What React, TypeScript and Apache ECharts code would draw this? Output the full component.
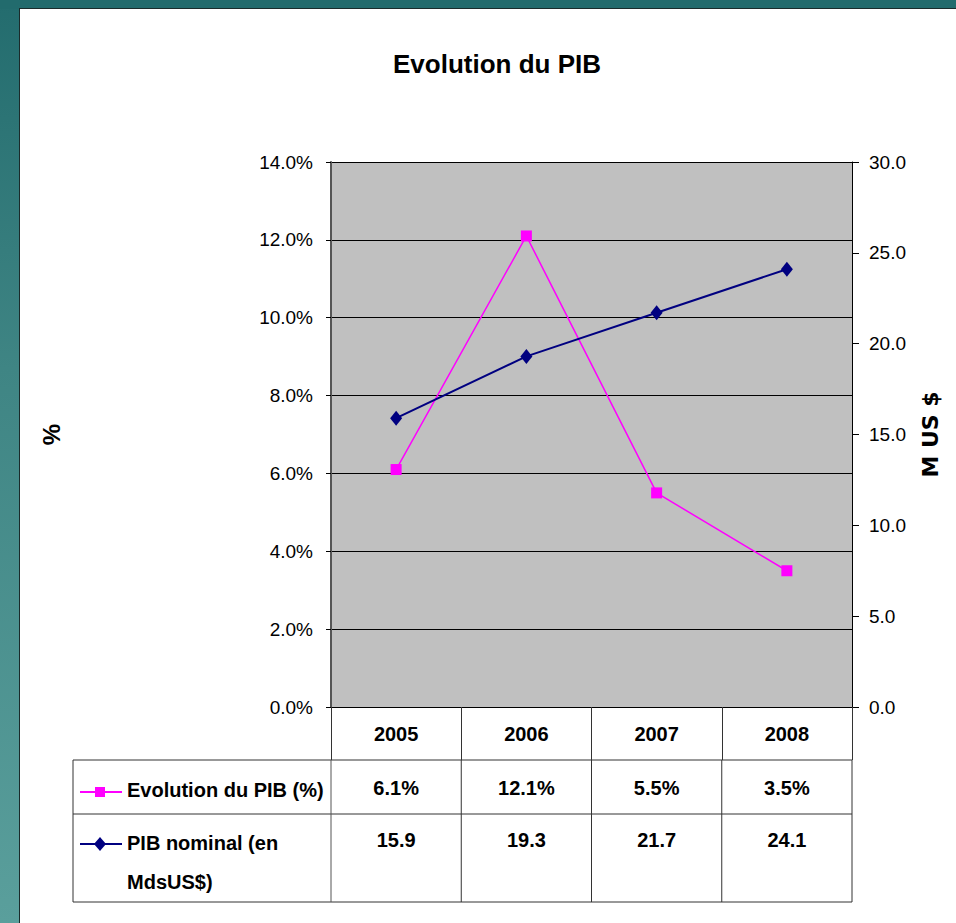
import React, { useEffect, useRef } from "react";
import * as echarts from "echarts";

const years = ["2005", "2006", "2007", "2008"];
const growthPct = [6.1, 12.1, 5.5, 3.5];
const nominalGdp = [15.9, 19.3, 21.7, 24.1];
const growthName = "Evolution du PIB (%)";
const nominalNameLines = ["PIB nominal (en", "MdsUS$)"];

const W = 956;
const H = 923;
const FONT = "'Liberation Sans', Arial, sans-serif";
const GRID_L = 331;
const GRID_R = 852;
const GRID_T = 162;
const GRID_B = 707;
const ROW1 = 760;
const ROW2 = 814;
const ROW3 = 902;
const TABLE_L = 73;
const PINK = "#FF00FF";
const NAVY = "#000080";
const LINE = "#333333";

export default function App() {
  const ref = useRef<HTMLDivElement>(null);
  useEffect(() => {
    if (!ref.current) return;
    const chart = echarts.init(ref.current, undefined, { renderer: "svg" });
    const colW = (GRID_R - GRID_L) / years.length;
    const graphic: any[] = [];
    const hline = (y: number) => ({
      type: "line",
      shape: { x1: TABLE_L, y1: y, x2: GRID_R, y2: y },
      style: { stroke: LINE, lineWidth: 1 },
    });
    graphic.push(hline(ROW1), hline(ROW2), hline(ROW3));
    graphic.push({
      type: "line",
      shape: { x1: TABLE_L, y1: ROW1, x2: TABLE_L, y2: ROW3 },
      style: { stroke: LINE, lineWidth: 1 },
    });
    for (let i = 0; i <= years.length; i++) {
      const x = GRID_L + i * colW;
      graphic.push({
        type: "line",
        shape: { x1: x, y1: ROW1, x2: x, y2: ROW3 },
        style: { stroke: i === 0 ? "#555" : LINE, lineWidth: 1 },
      });
    }
    const cellText = (txt: string, x: number, y: number, align: string = "center") => ({
      type: "text",
      x,
      y,
      style: {
        text: txt,
        font: `bold 20px ${FONT}`,
        fill: "#000",
        align,
        verticalAlign: "middle",
      },
    });
    years.forEach((_, i) => {
      const cx = GRID_L + (i + 0.5) * colW;
      graphic.push(cellText(growthPct[i].toFixed(1) + "%", cx, 788));
      graphic.push(cellText(nominalGdp[i].toFixed(1), cx, 840));
    });
    graphic.push(cellText(growthName, 127, 790, "left"));
    graphic.push(cellText(nominalNameLines[0], 127, 843, "left"));
    graphic.push(cellText(nominalNameLines[1], 127, 882, "left"));
    // legend keys
    graphic.push({
      type: "line",
      shape: { x1: 80, y1: 792, x2: 122, y2: 792 },
      style: { stroke: PINK, lineWidth: 2 },
    });
    graphic.push({
      type: "rect",
      shape: { x: 95, y: 787, width: 10, height: 10 },
      style: { fill: PINK },
    });
    graphic.push({
      type: "line",
      shape: { x1: 80, y1: 844, x2: 122, y2: 844 },
      style: { stroke: NAVY, lineWidth: 2 },
    });
    graphic.push({
      type: "polygon",
      shape: { points: [[100, 837], [106, 844], [100, 851], [94, 844]] },
      style: { fill: NAVY },
    });

    chart.setOption({
      animation: false,
      backgroundColor: "transparent",
      textStyle: { fontFamily: FONT },
      title: {
        text: "Evolution du PIB",
        left: 492,
        textAlign: "center",
        top: 46,
        textStyle: { fontFamily: FONT, fontSize: 26, fontWeight: "bold", color: "#000" },
      },
      grid: {
        left: GRID_L,
        right: W - GRID_R,
        top: GRID_T,
        bottom: H - GRID_B,
        show: true,
        backgroundColor: "#C0C0C0",
        borderWidth: 0,
      },
      xAxis: {
        type: "category",
        data: years,
        boundaryGap: true,
        axisLine: { show: true, lineStyle: { color: "#000", width: 1 } },
        axisTick: { show: true, interval: 0, length: ROW1 - GRID_B, lineStyle: { color: LINE, width: 1 } },
        axisLabel: { margin: 17, fontFamily: FONT, fontSize: 20, fontWeight: "bold", color: "#000" },
        splitLine: { show: false },
      },
      yAxis: [
        {
          type: "value",
          min: 0,
          max: 14,
          interval: 2,
          position: "left",
          name: "%",
          nameLocation: "middle",
          nameGap: 268,
          nameRotate: 90,
          nameTextStyle: { fontFamily: FONT, fontSize: 24, fontWeight: "bold", color: "#000" },
          axisLine: { show: true, lineStyle: { color: "#555", width: 2 } },
          axisTick: { show: true, length: 5, lineStyle: { color: "#000" } },
          axisLabel: {
            margin: 18,
            fontFamily: FONT,
            fontSize: 19,
            color: "#000",
            formatter: (v: number) => v.toFixed(1) + "%",
          },
          splitLine: { show: true, lineStyle: { color: "#000", width: 1 } },
        },
        {
          type: "value",
          min: 0,
          max: 30,
          interval: 5,
          position: "right",
          name: "M US $",
          nameLocation: "middle",
          nameGap: 67,
          nameRotate: 90,
          nameTextStyle: { fontFamily: "'DejaVu Sans', sans-serif", fontSize: 22, fontWeight: "bold", color: "#000" },
          axisLine: { show: true, lineStyle: { color: "#000", width: 1 } },
          axisTick: { show: true, length: 7, lineStyle: { color: "#000" } },
          axisLabel: {
            margin: 17,
            fontFamily: FONT,
            fontSize: 19,
            color: "#000",
            formatter: (v: number) => v.toFixed(1),
          },
          splitLine: { show: false },
        },
      ],
      series: [
        {
          name: growthName,
          type: "line",
          yAxisIndex: 0,
          data: growthPct,
          symbol: "rect",
          symbolSize: 11,
          lineStyle: { color: PINK, width: 1.5 },
          itemStyle: { color: PINK },
        },
        {
          name: nominalNameLines.join(" "),
          type: "line",
          yAxisIndex: 1,
          data: nominalGdp,
          symbol: "diamond",
          symbolSize: [12, 15],
          lineStyle: { color: NAVY, width: 2 },
          itemStyle: { color: NAVY },
        },
      ],
      graphic,
    });
    return () => chart.dispose();
  }, []);

  return (
    <div style={{ position: "fixed", left: 0, top: 0, width: W, height: H, overflow: "hidden" }}>
      <div
        style={{
          position: "absolute",
          left: 0,
          top: 0,
          width: W,
          height: H,
          background: "linear-gradient(to bottom, #236C6E 0%, #3F8584 40%, #5A9F9C 100%)",
        }}
      />
      <div
        style={{
          position: "absolute",
          left: 0,
          top: 0,
          width: W,
          height: 9,
          background: "#226B6D",
        }}
      />
      <div
        style={{
          position: "absolute",
          left: 19,
          top: 8,
          width: W - 19,
          height: H - 8,
          background: "#FFFFFF",
          borderLeft: "1px solid #1a2b2b",
          borderTop: "1px solid #1a2b2b",
          boxSizing: "border-box",
        }}
      />
      <div ref={ref} style={{ position: "absolute", left: 0, top: 0, width: W, height: H }} />
    </div>
  );
}
